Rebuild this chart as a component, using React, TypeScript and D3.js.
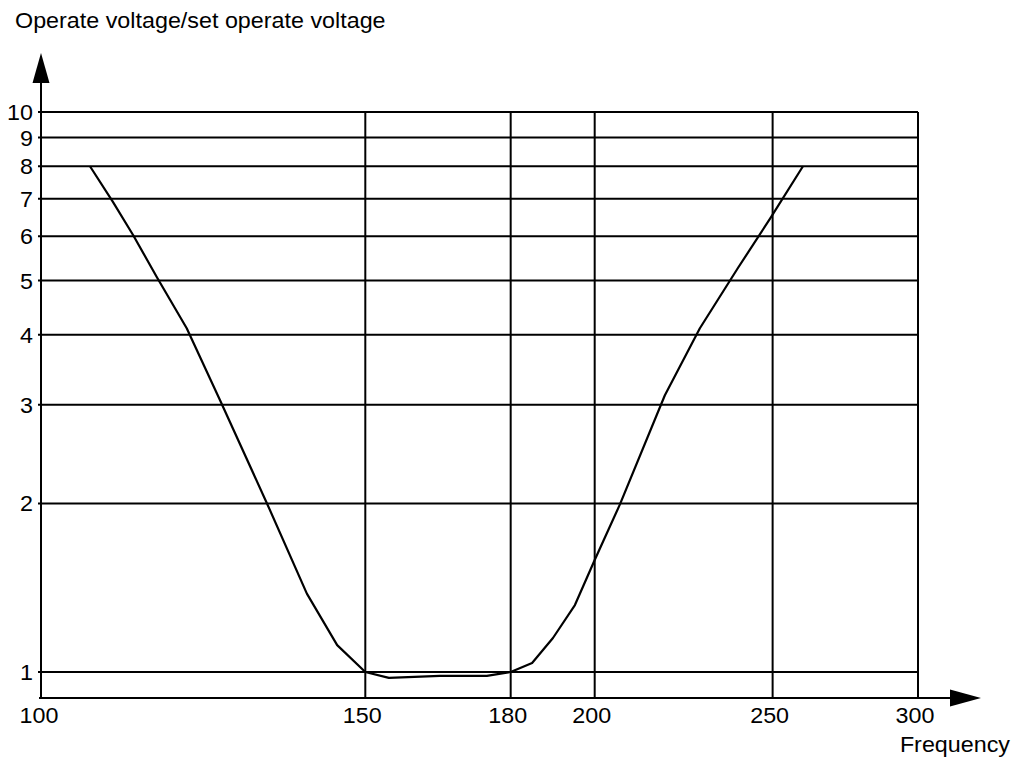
import React from "react";
import * as d3 from "d3";

const xTicks = [100, 150, 180, 200, 250, 300];
const yTicks = [1, 2, 3, 4, 5, 6, 7, 8, 9, 10];
const freq = [106.2, 109.3, 112.1, 115.5, 119.9, 125.0, 132.6, 139.4, 144.8, 150, 154.5, 164.7, 174.7, 180, 184.9, 189.8, 195.1, 200, 206.4, 218.4, 228.2, 239.4, 249.5, 259.7];
const ratio = [8, 6.91, 6.03, 5.07, 4.11, 3.06, 2.0, 1.38, 1.117, 1, 0.976, 0.984, 0.984, 1, 1.038, 1.15, 1.317, 1.585, 1.99, 3.12, 4.11, 5.27, 6.49, 8];
const yAxisBottom = 0.899;

const W = 1024;
const H = 759;
const FONT = "'Liberation Sans', Arial, Helvetica, sans-serif";
const FS = 22;
const SX = 1.06;

export default function App() {
  const x = d3.scaleLog().domain([100, 300]).range([42, 918]);
  const y = d3.scaleLog().domain([1, 10]).range([672, 112]);
  const line = d3
    .line<number>()
    .x((_, i) => x(freq[i]))
    .y((d) => y(d));
  const axisY = y(yAxisBottom);
  const x0 = x(100) - 1;
  const xEnd = x(300);
  const yTop = y(10);

  const stext = (tx: number, ty: number, txt: string, anchor: string, key?: any) => (
    <text
      key={key}
      transform={`translate(${tx},${ty}) scale(${SX},1)`}
      textAnchor={anchor}
      fontFamily={FONT}
      fontSize={FS}
      fill="#000"
    >
      {txt}
    </text>
  );

  return (
    <svg width={W} height={H} style={{ position: "absolute", left: 0, top: 0, background: "#fff" }}>
      {yTicks.map((t) => (
        <line key={"h" + t} x1={x0 - 3} x2={xEnd} y1={y(t)} y2={y(t)} stroke="#000" strokeWidth={2} />
      ))}
      {xTicks.slice(1).map((t) => (
        <line key={"v" + t} x1={x(t)} x2={x(t)} y1={yTop} y2={axisY} stroke="#000" strokeWidth={2} />
      ))}
      <line x1={x0} x2={x0} y1={axisY} y2={80} stroke="#000" strokeWidth={2} />
      <path d={`M${x0},53 L${x0 - 8.5},83 L${x0 + 8.5},83 Z`} fill="#000" />
      <line x1={x0 - 2} x2={952} y1={axisY} y2={axisY} stroke="#000" strokeWidth={2} />
      <path d={`M981,${axisY} L950,${axisY - 8.5} L950,${axisY + 8.5} Z`} fill="#000" />
      <path d={line(ratio) || ""} fill="none" stroke="#000" strokeWidth={2.2} strokeLinejoin="round" />
      {yTicks.map((t) => stext(33, y(t) + 8, String(t), "end", "yl" + t))}
      {xTicks.map((t) => stext(x(t) - 3, 723, String(t), "middle", "xl" + t))}
      {stext(15, 28, "Operate voltage/set operate voltage", "start")}
      {stext(1010, 752, "Frequency", "end")}
    </svg>
  );
}
